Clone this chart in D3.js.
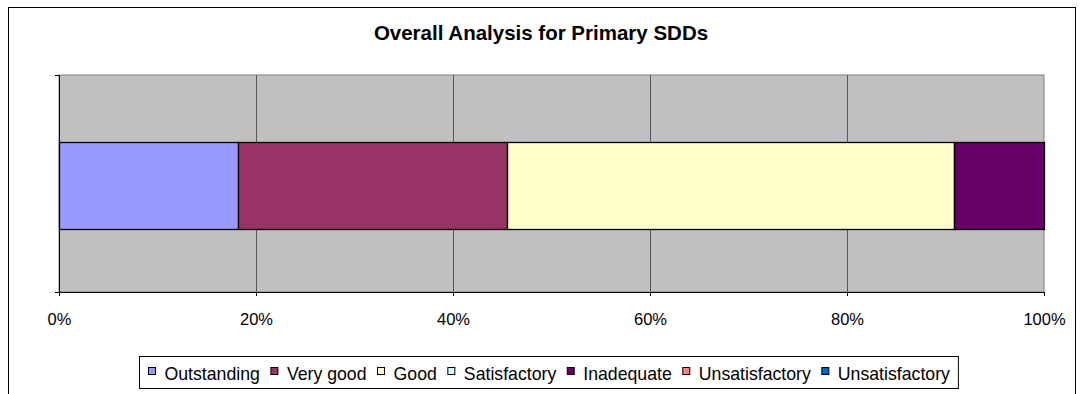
<!DOCTYPE html>
<html>
<head>
<meta charset="utf-8">
<script src="https://cdn.jsdelivr.net/npm/d3@7"></script>
<style>
    body { margin: 0; background: #fff; font-family: "Liberation Sans", Arial, sans-serif; }
    svg { display: block; }
</style>
</head>
<body>
<div id="container"><svg></svg></div>
<script>
let width = 1083;
let height = 394;

// data (percent of schools)
let categories = ['Primary SDDs'];
let series_names = ['Outstanding', 'Very good', 'Good', 'Satisfactory', 'Inadequate', 'Unsatisfactory', 'Unsatisfactory '];
let series_values = [18.2, 27.3, 45.5, 0, 9.1, 0, 0];
let series_colors = ['#9999FF', '#993366', '#FFFFCC', '#CCFFFF', '#660066', '#FF8080', '#0066CC'];
let tick_values = [0, 0.2, 0.4, 0.6, 0.8, 1];

let fontFamily = '"Liberation Sans", Arial, sans-serif';

function draw_main() {
    let plot = {'left': 59, 'right': 1044, 'top': 75, 'bottom': 292};
    let svg = d3.select('#container').select('svg')
        .attr('width', width)
        .attr('height', height)
        .attr('font-family', fontFamily);

    // chart area border
    svg.append('rect')
        .attr('x', 8.5).attr('y', 7.5)
        .attr('width', 1067).attr('height', 400)
        .attr('fill', '#fff')
        .attr('stroke', '#000');

    // title
    svg.append('text')
        .attr('x', 541)
        .attr('y', 40)
        .attr('text-anchor', 'middle')
        .attr('font-weight', 'bold')
        .attr('font-size', '20.5px')
        .text('Overall Analysis for Primary SDDs');

    let x = d3.scaleLinear()
        .domain([0, 1])
        .range([plot.left, plot.right]);
    let y = d3.scaleBand()
        .domain(categories)
        .range([plot.top, plot.bottom])
        .padding(0.428)
        .align(0.515);

    // plot background
    svg.append('rect')
        .attr('x', plot.left).attr('y', plot.top)
        .attr('width', plot.right - plot.left)
        .attr('height', plot.bottom - plot.top)
        .attr('fill', '#C0C0C0')
        .attr('stroke', '#808080');

    // gridlines
    svg.append('g')
        .selectAll('line')
        .data(tick_values.slice(1, -1))
        .enter().append('line')
        .attr('x1', d => Math.round(x(d)) + 0.5)
        .attr('x2', d => Math.round(x(d)) + 0.5)
        .attr('y1', plot.top)
        .attr('y2', plot.bottom)
        .attr('stroke', '#555');

    // stacked bars
    let row = {};
    row.cat = categories[0];
    series_names.forEach((s, i) => row[s] = series_values[i]);
    let stack = d3.stack()
        .keys(series_names)
        .offset(d3.stackOffsetExpand);
    let layers = stack([row]);

    svg.append('g')
        .selectAll('rect')
        .data(layers.filter(l => l[0][1] - l[0][0] > 0))
        .enter().append('rect')
        .attr('x', d => Math.round(x(d[0][0])) + 0.5)
        .attr('y', Math.round(y(categories[0])) + 0.5)
        .attr('width', d => Math.round(x(d[0][1])) - Math.round(x(d[0][0])))
        .attr('height', Math.round(y.bandwidth()))
        .attr('fill', d => series_colors[series_names.indexOf(d.key)])
        .attr('stroke', '#000')
        .attr('stroke-width', 1.3);

    // x axis
    let axis_x = d3.axisBottom(x)
        .tickValues(tick_values)
        .tickFormat(d3.format('.0%'))
        .tickSize(4)
        .tickSizeOuter(0);
    let gx = svg.append('g')
        .attr('transform', `translate(0, ${plot.bottom})`)
        .call(axis_x);
    gx.select('.domain').attr('stroke', '#000');
    gx.selectAll('.tick line').attr('stroke', '#000');
    gx.selectAll('text')
        .attr('font-family', fontFamily)
        .attr('font-size', '16.5px')
        .attr('fill', '#000')
        .attr('y', 33)
        .attr('dy', null);

    // y axis (no labels)
    let axis_y = d3.axisLeft(y).tickValues([]).tickSizeOuter(4);
    let gy = svg.append('g')
        .attr('transform', `translate(${plot.left}, 0)`)
        .call(axis_y);
    gy.select('.domain').attr('stroke', '#000');

    // legend
    let legend = svg.append('g');
    let items = legend.selectAll('g')
        .data(series_names)
        .enter().append('g');
    items.append('rect')
        .attr('width', 7).attr('height', 7)
        .attr('x', 0.5)
        .attr('y', -12.5)
        .attr('fill', (d, i) => series_colors[i])
        .attr('stroke', '#000');
    items.append('text')
        .attr('x', 16.5)
        .attr('font-size', '17.7px')
        .text(d => d.trim());
    let pos = 0;
    let offsets = [];
    items.each(function () {
        offsets.push(pos);
        pos += 16.5 + this.querySelector('text').getComputedTextLength() + 10.5;
    });
    let total = pos - 10.5;
    let lx = 148;
    items.attr('transform', (d, i) => `translate(${lx + offsets[i]}, 380)`);
    legend.insert('rect', ':first-child')
        .attr('x', 139.5).attr('y', 356.5)
        .attr('width', total + 17).attr('height', 32)
        .attr('fill', '#fff')
        .attr('stroke', '#000');
}

draw_main();
</script>
</body>
</html>
